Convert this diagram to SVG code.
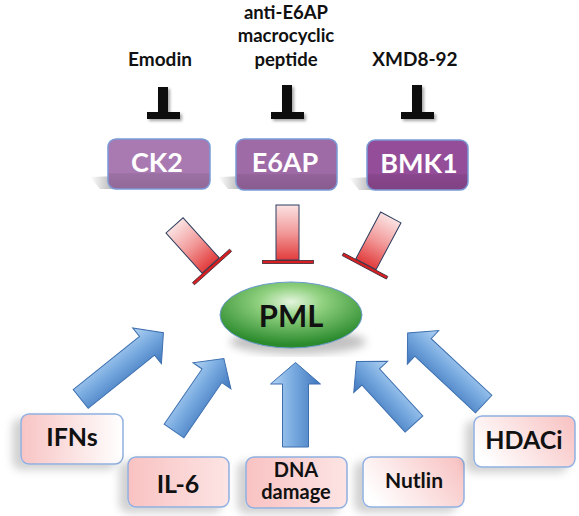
<svg xmlns="http://www.w3.org/2000/svg" width="579" height="516" viewBox="0 0 579 516">
<style>
.lbl{font-family:Lato,"Liberation Sans",Arial,sans-serif;font-weight:bold;text-anchor:middle;fill:#111}
.plbl{font-family:Lato,"Liberation Sans",Arial,sans-serif;font-weight:bold;text-anchor:middle;fill:#fff}
.pbox{stroke:#7a9ad6;stroke-width:1.5}
.bbox{stroke:#8fb0e0;stroke-width:1.5}
.tbar{fill:#111}
.arrow{stroke:#3d6faf;stroke-width:1}
.inh{fill:url(#redG);stroke:#2f3f5f;stroke-width:1}
.base{fill:#d81e1e;stroke:#3a2a3a;stroke-width:0.8}
</style>
<defs>
<linearGradient id="blueG" x1="0" y1="0" x2="0" y2="1">
<stop offset="0" stop-color="#b4d4f4"/>
<stop offset="0.45" stop-color="#79abe0"/>
<stop offset="1" stop-color="#3e76bd"/>
</linearGradient>
<linearGradient id="blueR" x1="0" y1="1" x2="0" y2="0">
<stop offset="0" stop-color="#b4d4f4"/>
<stop offset="0.45" stop-color="#79abe0"/>
<stop offset="1" stop-color="#3e76bd"/>
</linearGradient>
<linearGradient id="redG" x1="0" y1="0" x2="0" y2="1">
<stop offset="0" stop-color="#fbe2e2"/>
<stop offset="0.5" stop-color="#f29a9a"/>
<stop offset="1" stop-color="#e23c3c"/>
</linearGradient>
<linearGradient id="pinkL" x1="0" y1="0" x2="1" y2="0">
<stop offset="0" stop-color="#f8c4c4"/>
<stop offset="1" stop-color="#ffffff"/>
</linearGradient>
<linearGradient id="pinkA" x1="0" y1="0" x2="1" y2="0">
<stop offset="0" stop-color="#f9c2c2"/>
<stop offset="1" stop-color="#fde4e4"/>
</linearGradient>
<linearGradient id="pinkR" x1="0" y1="0.6" x2="1" y2="0.2">
<stop offset="0" stop-color="#ffffff"/>
<stop offset="1" stop-color="#f8c4c4"/>
</linearGradient>
<linearGradient id="band" x1="0" y1="0" x2="0" y2="1">
<stop offset="0" stop-color="#000" stop-opacity="0"/>
<stop offset="0.68" stop-color="#000" stop-opacity="0"/>
<stop offset="0.7" stop-color="#000" stop-opacity="0.08"/>
<stop offset="1" stop-color="#000" stop-opacity="0.14"/>
</linearGradient>
<linearGradient id="shadeL" x1="0" y1="0" x2="1" y2="0">
<stop offset="0" stop-color="#999" stop-opacity="0"/>
<stop offset="1" stop-color="#888" stop-opacity="0.8"/>
</linearGradient>
<radialGradient id="greenG" cx="0.5" cy="0.3" r="0.65">
<stop offset="0" stop-color="#e4f5de"/>
<stop offset="0.35" stop-color="#8fd07e"/>
<stop offset="1" stop-color="#2a8a2c"/>
</radialGradient>
<filter id="sh" x="-30%" y="-30%" width="160%" height="160%">
<feDropShadow dx="2" dy="2" stdDeviation="1.5" flood-color="#000" flood-opacity="0.35"/>
</filter>
<filter id="bsh" x="-30%" y="-30%" width="160%" height="160%">
<feDropShadow dx="-8" dy="5" stdDeviation="4" flood-color="#000" flood-opacity="0.18"/>
</filter>
<filter id="blur4"><feGaussianBlur stdDeviation="4"/></filter>
</defs>
<rect width="579" height="516" fill="#fff"/>

<g id="emodin"><text class="lbl" x="160" y="66" font-size="19">Emodin</text></g>
<g id="anti-e6ap"><text class="lbl" font-size="18.5"><tspan x="286" y="19">anti-E6AP</tspan><tspan x="286" y="42">macrocyclic</tspan><tspan x="286" y="66">peptide</tspan></text></g>
<g id="xmd8-92"><text class="lbl" x="415" y="66" font-size="19">XMD8-92</text></g>

<g id="ck2">
<polygon points="90,177 118,176 118,189 100,189" fill="url(#shadeL)"/>
<rect class="pbox" x="108" y="139" width="102" height="50" rx="8" fill="#a97ab1"/>
<rect x="108.75" y="139.75" width="100.5" height="48.5" rx="7.5" fill="url(#band)"/>
<text class="plbl" x="157" y="172" font-size="27">CK2</text>
</g>
<g id="e6ap">
<polygon points="218,177 246,176 246,189 228,189" fill="url(#shadeL)"/>
<rect class="pbox" x="236" y="139" width="101" height="51" rx="8" fill="#9f6ba7"/>
<rect x="236.75" y="139.75" width="99.5" height="49.5" rx="7.5" fill="url(#band)"/>
<text class="plbl" x="285" y="172" font-size="27">E6AP</text>
</g>
<g id="bmk1">
<polygon points="349,178 377,177 377,190 359,190" fill="url(#shadeL)"/>
<rect class="pbox" x="367" y="140" width="101" height="50" rx="8" fill="#944d98"/>
<rect x="367.75" y="140.75" width="99.5" height="48.5" rx="7.5" fill="url(#band)"/>
<text class="plbl" x="419" y="173" font-size="27">BMK1</text>
</g>

<g id="pml">
<ellipse cx="298" cy="342" rx="68" ry="12" fill="#777" opacity="0.45" filter="url(#blur4)"/>
<ellipse cx="291" cy="315" rx="71" ry="33" fill="url(#greenG)" stroke="#6a9ad0" stroke-width="1"/>
<text class="lbl" x="291" y="327" font-size="31">PML</text>
</g>

<g id="ifns"><rect class="bbox" x="21" y="414" width="102" height="50" rx="8" fill="url(#pinkL)" filter="url(#bsh)"/><text class="lbl" x="72" y="446" font-size="25">IFNs</text></g>
<g id="il-6"><rect class="bbox" x="128" y="457" width="101" height="50" rx="8" fill="url(#pinkA)" filter="url(#bsh)"/><text class="lbl" x="178" y="493" font-size="25">IL-6</text></g>
<g id="dna-damage"><rect class="bbox" x="246" y="457" width="101" height="51" rx="8" fill="url(#pinkA)" filter="url(#bsh)"/><text class="lbl" font-size="20"><tspan x="296" y="477">DNA</tspan><tspan x="296" y="499">damage</tspan></text></g>
<g id="nutlin"><rect class="bbox" x="363" y="457" width="101" height="50" rx="8" fill="url(#pinkR)" filter="url(#bsh)"/><text class="lbl" x="414" y="488" font-size="21">Nutlin</text></g>
<g id="hdaci"><rect class="bbox" x="474" y="416" width="101" height="51" rx="8" fill="url(#pinkR)" filter="url(#bsh)"/><text class="lbl" x="524" y="449" font-size="25">HDACi</text></g>

<g id="connectors">
<g filter="url(#sh)">
<rect class="tbar" x="158" y="87" width="10" height="26"/><rect class="tbar" x="147" y="112" width="33" height="7"/>
<rect class="tbar" x="282" y="85" width="10" height="28"/><rect class="tbar" x="271" y="112" width="33" height="7"/>
<rect class="tbar" x="412" y="85" width="10" height="28"/><rect class="tbar" x="401" y="112" width="33" height="7"/>
</g>
<g transform="translate(212,267) rotate(-42)"><rect class="inh" x="-11.5" y="-56" width="23" height="54"/><rect class="base" x="-25" y="-1.5" width="50" height="3"/></g>
<g transform="translate(287.5,262) rotate(0)"><rect class="inh" x="-11.5" y="-57" width="23" height="55"/><rect class="base" x="-25" y="-1.5" width="51" height="3"/></g>
<g transform="translate(365,266) rotate(28)"><rect class="inh" x="-11.5" y="-55" width="23" height="53"/><rect class="base" x="-25" y="-1.5" width="50" height="3"/></g>

<path class="arrow" fill="url(#blueG)" transform="translate(80.7,399) rotate(-38.7)" d="M0,-12 H85 V-23 L106,0 L85,23 V12 H0 Z"/>
<path class="arrow" fill="url(#blueG)" transform="translate(174,431) rotate(-55.5)" d="M0,-12 H67 V-23 L88,0 L67,23 V12 H0 Z"/>
<path class="arrow" fill="url(#blueG)" transform="translate(295.5,447) rotate(-90)" d="M0,-13 H63 V-25 L84.5,0 L63,25 V13 H0 Z"/>
<path class="arrow" fill="url(#blueR)" transform="translate(414,424) rotate(-132.6)" d="M0,-12 H64 V-23 L85,0 L64,23 V12 H0 Z"/>
<path class="arrow" fill="url(#blueR)" transform="translate(483.7,404) rotate(-137)" d="M0,-12 H83 V-23 L104,0 L83,23 V12 H0 Z"/>
</g>
</svg>
